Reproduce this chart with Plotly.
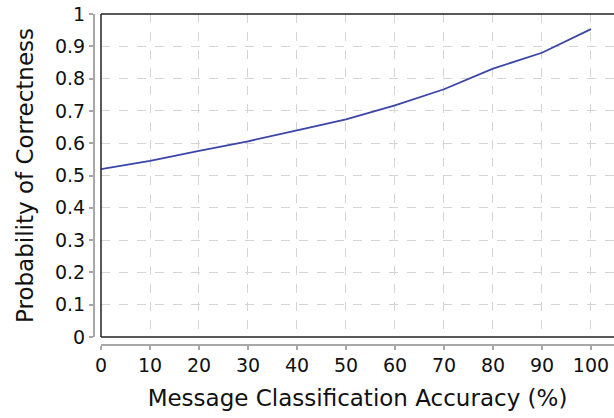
import plotly.graph_objects as go

accuracy = [0, 10, 20, 30, 40, 50, 60, 70, 80, 90, 100]
prob_correct = [0.520, 0.545, 0.576, 0.606, 0.640, 0.674, 0.717, 0.767, 0.831, 0.880, 0.953]
x_ticks = [0, 10, 20, 30, 40, 50, 60, 70, 80, 90, 100]
y_ticks = [0, 0.1, 0.2, 0.3, 0.4, 0.5, 0.6, 0.7, 0.8, 0.9, 1]
y_tick_labels = ["0", "0.1", "0.2", "0.3", "0.4", "0.5", "0.6", "0.7", "0.8", "0.9", "1"]

W, H = 614, 418
L, R, T, B = 88, 0, 14, 70
pw, ph = W - L - R, H - T - B
x0 = (101 - L) / pw
ypos = (94 - L) / pw
y0 = (H - B - 337) / ph
xpos = (H - B - 344.5) / ph

fig = go.Figure()
fig.add_trace(go.Scatter(x=accuracy, y=prob_correct, mode="lines",
                         line=dict(color="#3a45a8", width=1.8), showlegend=False))

tick_font = dict(size=19, family="DejaVu Sans", color="#111111")
title_font = dict(size=23, family="DejaVu Sans", color="#111111")
fig.update_layout(
    width=W, height=H,
    margin=dict(l=L, r=R, t=T, b=B, autoexpand=False),
    paper_bgcolor="white", plot_bgcolor="white",
    font=dict(family="DejaVu Sans", color="#111111"),
    xaxis=dict(domain=[x0, 1], anchor="free", position=xpos, automargin=False,
               range=[0, 104.7], tickvals=x_ticks, ticktext=[str(v) for v in x_ticks],
               showline=True, linecolor="#a8a8a8", linewidth=2,
               ticks="outside", ticklen=4, tickcolor="#a8a8a8", tickwidth=1.5,
               showgrid=True, gridcolor="#d4d4d4", griddash="dash", gridwidth=1,
               zeroline=False, tickfont=tick_font,
               title=dict(text="Message Classification Accuracy (%)", standoff=14,
                          font=title_font)),
    yaxis=dict(domain=[y0, 1], anchor="free", position=ypos, automargin=False,
               range=[0, 1], tickvals=y_ticks, ticktext=y_tick_labels,
               showline=True, linecolor="#a8a8a8", linewidth=2,
               ticks="outside", ticklen=4, tickcolor="#a8a8a8", tickwidth=1.5,
               showgrid=True, gridcolor="#d4d4d4", griddash="dash", gridwidth=1,
               zeroline=False, tickfont=tick_font,
               title=dict(text="Probability of Correctness", standoff=14,
                          font=title_font)),
)

# plot frame (top, left, bottom)
for xa, ya, xb, yb in [(0, 1, 1, 1), (0, 0, 0, 1), (0, 0, 1, 0)]:
    fig.add_shape(type="line", xref="x domain", yref="y domain",
                  x0=xa, y0=ya, x1=xb, y1=yb,
                  line=dict(color="#222222", width=1.5))

fig.write_html("out.html", config={"displayModeBar": False},
               post_script="document.body.style.margin='0';document.body.style.overflow='hidden';")
